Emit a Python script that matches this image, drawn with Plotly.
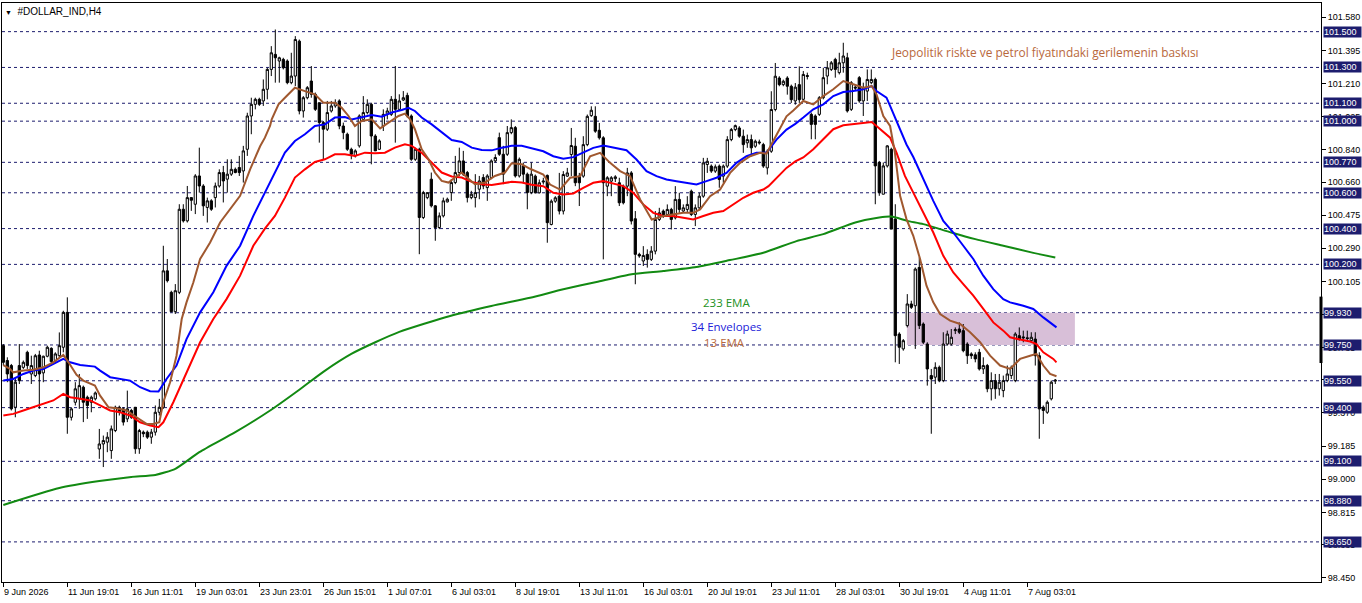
import plotly.graph_objects as go

# ---- H4 candles (bar index 0 = 9 Jun 2026) ----
bar_open = [
    99.746, 99.663, 99.635, 99.402, 99.635, 99.625, 99.709, 99.588, 99.579, 99.694,
    99.594, 99.687, 99.731, 99.663, 99.690, 99.737, 99.932, 99.346, 99.430, 99.449,
    99.514, 99.458, 99.430, 99.449, 99.169, 99.197, 99.207, 99.160, 99.272, 99.402,
    99.393, 99.337, 99.384, 99.402, 99.170, 99.263, 99.263, 99.235, 99.263, 99.374,
    99.402, 100.164, 100.044, 99.936, 100.044, 100.508, 100.443, 100.573, 100.536, 100.694,
    100.638, 100.518, 100.555, 100.573, 100.638, 100.713, 100.676, 100.704, 100.731, 100.741,
    100.722, 100.843, 101.029, 101.094, 101.122, 101.113, 101.178, 101.289, 101.373, 101.336,
    101.345, 101.336, 101.215, 101.252, 101.447, 101.057, 101.131, 101.224, 101.150, 101.103,
    100.992, 100.955, 101.057, 101.085, 101.113, 100.973, 100.927, 100.843, 100.806, 100.862,
    101.010, 101.048, 101.094, 100.917, 100.843, 100.973, 101.038, 101.038, 101.122, 101.066,
    101.118, 101.144, 101.029, 100.787, 100.843, 100.462, 100.573, 100.676, 100.527, 100.406,
    100.471, 100.549, 100.601, 100.657, 100.713, 100.778, 100.713, 100.573, 100.573, 100.620,
    100.685, 100.629, 100.685, 100.778, 100.908, 100.815, 100.815, 100.936, 100.964, 100.694,
    100.750, 100.704, 100.601, 100.693, 100.600, 100.660, 100.697, 100.423, 100.553, 100.581,
    100.498, 100.693, 100.814, 100.860, 100.693, 100.693, 100.869, 101.031, 101.027, 100.949,
    100.907, 100.637, 100.665, 100.679, 100.656, 100.637, 100.637, 100.711, 100.455, 100.256,
    100.219, 100.256, 100.228, 100.274, 100.451, 100.498, 100.479, 100.507, 100.460, 100.563,
    100.498, 100.507, 100.609, 100.479, 100.516, 100.581, 100.758, 100.749, 100.721, 100.749,
    100.693, 100.749, 100.897, 100.953, 100.962, 100.916, 100.879, 100.897, 100.860, 100.884,
    100.869, 100.739, 100.832, 101.065, 101.241, 101.204, 101.241, 101.195, 101.113, 101.204,
    101.122, 101.255, 101.038, 101.029, 101.038, 101.131, 101.252, 101.289, 101.345, 101.271,
    101.326, 101.354, 101.066, 101.190, 101.243, 101.113, 101.168, 101.215, 101.233, 100.769,
    100.592, 100.750, 100.843, 100.453, 99.811, 99.728, 99.858, 99.979, 99.969, 100.183,
    99.867, 99.755, 99.579, 99.570, 99.625, 99.551, 99.755, 99.755, 99.830, 99.839,
    99.830, 99.755, 99.700, 99.695, 99.709, 99.616, 99.635, 99.505, 99.551, 99.505,
    99.495, 99.551, 99.579, 99.551, 99.802, 99.795, 99.790, 99.774, 99.783, 99.690,
    99.402, 99.374, 99.449, 99.548,
]
bar_high = [
    99.755, 99.681, 99.644, 99.570, 99.755, 99.663, 99.718, 99.690, 99.700, 99.718,
    99.690, 99.746, 99.737, 99.709, 99.820, 99.941, 100.016, 99.402, 99.542, 99.588,
    99.523, 99.467, 99.467, 99.490, 99.281, 99.244, 99.263, 99.300, 99.411, 99.411,
    99.402, 99.495, 99.393, 99.402, 99.281, 99.272, 99.272, 99.281, 99.412, 99.449,
    100.304, 100.230, 100.053, 100.090, 100.536, 100.536, 100.638, 100.573, 100.704, 100.852,
    100.648, 100.573, 100.564, 100.657, 100.731, 100.750, 100.787, 100.787, 100.741, 100.806,
    100.862, 101.047, 101.131, 101.131, 101.131, 101.233, 101.298, 101.419, 101.512, 101.360,
    101.354, 101.345, 101.382, 101.475, 101.456, 101.140, 101.196, 101.308, 101.160, 101.103,
    101.001, 101.113, 101.113, 101.122, 101.122, 100.992, 100.936, 100.852, 100.843, 101.038,
    101.140, 101.122, 101.103, 100.927, 100.899, 101.066, 101.075, 101.140, 101.308, 101.150,
    101.168, 101.159, 101.038, 100.852, 100.852, 100.611, 100.601, 100.713, 100.531, 100.490,
    100.573, 100.573, 100.676, 100.806, 100.852, 100.834, 100.722, 100.611, 100.704, 100.694,
    100.704, 100.704, 100.787, 100.815, 100.936, 100.862, 100.973, 101.010, 100.973, 100.797,
    100.769, 100.713, 100.769, 100.702, 100.674, 100.684, 100.702, 100.563, 100.581, 100.711,
    100.721, 100.739, 100.962, 100.907, 100.711, 100.916, 101.037, 101.083, 101.083, 100.990,
    100.916, 100.693, 100.693, 100.698, 100.684, 100.646, 100.739, 100.721, 100.498, 100.265,
    100.302, 100.284, 100.302, 100.498, 100.516, 100.507, 100.535, 100.516, 100.637, 100.600,
    100.535, 100.581, 100.618, 100.535, 100.600, 100.795, 100.795, 100.758, 100.758, 100.758,
    100.758, 100.916, 100.962, 100.981, 100.972, 100.953, 100.925, 100.925, 100.897, 100.897,
    100.879, 100.842, 101.167, 101.325, 101.251, 101.232, 101.251, 101.204, 101.213, 101.306,
    101.280, 101.271, 101.048, 101.038, 101.140, 101.298, 101.336, 101.336, 101.354, 101.382,
    101.438, 101.382, 101.224, 101.200, 101.252, 101.215, 101.289, 101.289, 101.243, 100.778,
    100.769, 100.866, 100.852, 100.536, 99.821, 99.783, 100.034, 99.997, 100.183, 100.239,
    99.876, 99.765, 99.616, 99.653, 99.635, 99.821, 99.830, 99.839, 99.848, 99.876,
    99.867, 99.765, 99.709, 99.709, 99.728, 99.681, 99.644, 99.597, 99.588, 99.588,
    99.579, 99.635, 99.635, 99.821, 99.848, 99.830, 99.830, 99.821, 99.821, 99.709,
    99.412, 99.440, 99.551, 99.560,
]
bar_low = [
    99.635, 99.542, 99.384, 99.346, 99.532, 99.616, 99.616, 99.532, 99.570, 99.393,
    99.542, 99.681, 99.635, 99.653, 99.681, 99.709, 99.254, 99.328, 99.412, 99.393,
    99.319, 99.337, 99.374, 99.440, 99.114, 99.068, 99.151, 99.114, 99.263, 99.356,
    99.300, 99.319, 99.337, 99.142, 99.142, 99.235, 99.225, 99.198, 99.244, 99.356,
    99.393, 100.099, 99.932, 99.923, 100.034, 100.434, 100.434, 100.499, 100.481, 100.601,
    100.471, 100.434, 100.499, 100.518, 100.629, 100.546, 100.601, 100.694, 100.709, 100.694,
    100.657, 100.806, 100.927, 101.066, 101.085, 101.085, 101.122, 101.252, 101.215, 101.215,
    101.289, 101.206, 101.206, 101.196, 101.038, 101.020, 101.122, 101.131, 101.057, 100.880,
    100.787, 100.945, 101.048, 101.075, 100.955, 100.899, 100.834, 100.787, 100.797, 100.852,
    101.010, 101.038, 100.759, 100.834, 100.839, 100.945, 101.010, 101.029, 100.880, 101.057,
    101.113, 101.020, 100.778, 100.778, 100.257, 100.453, 100.564, 100.518, 100.332, 100.397,
    100.462, 100.546, 100.555, 100.648, 100.694, 100.694, 100.546, 100.564, 100.518, 100.564,
    100.620, 100.555, 100.676, 100.769, 100.806, 100.648, 100.806, 100.927, 100.685, 100.685,
    100.657, 100.508, 100.592, 100.596, 100.596, 100.646, 100.321, 100.418, 100.544, 100.479,
    100.479, 100.689, 100.693, 100.637, 100.526, 100.684, 100.860, 101.024, 100.935, 100.897,
    100.228, 100.581, 100.581, 100.660, 100.526, 100.535, 100.581, 100.423, 100.089, 100.237,
    100.191, 100.182, 100.219, 100.256, 100.442, 100.460, 100.470, 100.395, 100.451, 100.488,
    100.488, 100.488, 100.470, 100.414, 100.507, 100.572, 100.711, 100.711, 100.711, 100.628,
    100.656, 100.739, 100.888, 100.944, 100.907, 100.823, 100.851, 100.804, 100.851, 100.869,
    100.739, 100.702, 100.823, 101.055, 101.195, 101.195, 101.148, 101.102, 101.092, 101.102,
    101.113, 101.233, 100.899, 100.899, 101.029, 101.122, 101.206, 101.280, 101.243, 101.261,
    101.271, 101.048, 101.057, 101.170, 101.103, 101.029, 101.113, 101.206, 100.536, 100.583,
    100.592, 100.741, 100.397, 99.653, 99.644, 99.718, 99.848, 99.951, 99.728, 99.839,
    99.755, 99.523, 99.254, 99.532, 99.542, 99.542, 99.746, 99.746, 99.811, 99.811,
    99.709, 99.644, 99.672, 99.653, 99.607, 99.588, 99.486, 99.440, 99.449, 99.467,
    99.458, 99.542, 99.560, 99.542, 99.774, 99.765, 99.774, 99.765, 99.635, 99.226,
    99.309, 99.365, 99.440, 99.532,
]
bar_close = [
    99.653, 99.588, 99.393, 99.542, 99.551, 99.653, 99.635, 99.635, 99.690, 99.588,
    99.687, 99.737, 99.657, 99.700, 99.746, 99.932, 99.346, 99.393, 99.505, 99.523,
    99.430, 99.412, 99.458, 99.482, 99.197, 99.216, 99.235, 99.281, 99.402, 99.374,
    99.319, 99.393, 99.346, 99.170, 99.272, 99.254, 99.235, 99.263, 99.374, 99.402,
    100.164, 100.109, 99.936, 100.053, 100.508, 100.443, 100.573, 100.558, 100.694, 100.638,
    100.527, 100.555, 100.508, 100.638, 100.713, 100.666, 100.704, 100.731, 100.713, 100.713,
    100.834, 101.029, 101.094, 101.122, 101.094, 101.178, 101.289, 101.382, 101.354, 101.354,
    101.298, 101.215, 101.252, 101.456, 101.057, 101.131, 101.187, 101.150, 101.066, 100.992,
    100.955, 101.048, 101.085, 101.103, 100.973, 100.936, 100.843, 100.815, 100.834, 101.029,
    101.048, 101.094, 100.917, 100.834, 100.890, 101.038, 101.057, 101.122, 101.066, 101.113,
    101.131, 101.029, 100.787, 100.843, 100.462, 100.601, 100.601, 100.527, 100.406, 100.471,
    100.555, 100.564, 100.657, 100.713, 100.778, 100.704, 100.573, 100.592, 100.601, 100.666,
    100.638, 100.694, 100.778, 100.797, 100.815, 100.704, 100.936, 100.964, 100.694, 100.787,
    100.704, 100.601, 100.704, 100.600, 100.656, 100.665, 100.433, 100.553, 100.572, 100.498,
    100.702, 100.711, 100.864, 100.656, 100.656, 100.869, 101.027, 101.061, 100.944, 100.907,
    100.656, 100.684, 100.684, 100.689, 100.544, 100.544, 100.711, 100.442, 100.256, 100.247,
    100.250, 100.228, 100.274, 100.451, 100.488, 100.470, 100.507, 100.451, 100.563, 100.507,
    100.516, 100.535, 100.479, 100.516, 100.581, 100.767, 100.776, 100.721, 100.745, 100.674,
    100.749, 100.897, 100.953, 100.975, 100.916, 100.869, 100.897, 100.851, 100.888, 100.879,
    100.749, 100.832, 101.065, 101.251, 101.204, 101.223, 101.195, 101.120, 101.190, 101.120,
    101.261, 101.250, 100.982, 100.982, 101.131, 101.243, 101.298, 101.326, 101.289, 101.326,
    101.364, 101.057, 101.215, 101.185, 101.113, 101.187, 101.233, 101.233, 100.750, 100.601,
    100.750, 100.862, 100.397, 99.802, 99.737, 99.774, 99.979, 99.960, 100.174, 99.858,
    99.765, 99.616, 99.560, 99.625, 99.551, 99.755, 99.811, 99.793, 99.835, 99.821,
    99.718, 99.690, 99.690, 99.672, 99.616, 99.635, 99.505, 99.551, 99.505, 99.542,
    99.551, 99.588, 99.625, 99.811, 99.783, 99.790, 99.786, 99.793, 99.690, 99.393,
    99.384, 99.430, 99.542, 99.553,
]
bar_index = list(range(len(bar_close)))

# ---- indicator lines, sampled at bar positions ----
ema13_x = [0.0, 1.7, 2.5, 5.0, 7.5, 10.0, 12.5, 15.0, 16.3, 18.3, 20.0, 22.9, 24.2, 26.3, 28.3,
           30.8, 33.3, 35.8, 37.5, 39.0, 40.0, 41.7, 43.3, 44.6, 45.8, 47.5, 49.2, 51.7, 54.2,
           56.7, 59.2, 61.7, 64.2, 65.4, 66.7, 67.1, 68.8, 70.4, 72.9, 75.4, 77.9, 80.0, 82.9,
           84.6, 86.3, 87.9, 89.6, 92.1, 94.2, 96.3, 98.8, 100.4, 101.7, 102.9, 104.6, 106.3,
           107.9, 109.6, 111.3, 112.9, 114.6, 116.3, 117.9, 120.4, 122.9, 125.4, 127.1, 129.6,
           131.7, 135.0, 136.7, 139.2, 141.7, 144.2, 146.7, 149.2, 151.7, 154.2, 156.7, 159.2,
           162.1, 165.0, 167.5, 170.0, 172.5, 174.2, 176.7, 179.2, 181.7, 184.2, 186.7, 189.2,
           190.8, 192.9, 195.8, 197.5, 200.0, 202.5, 205.0, 207.5, 210.0, 212.5, 215.0, 217.1,
           218.3, 220.0, 221.7, 222.9, 224.2, 225.8, 227.5, 229.2, 230.8, 232.5, 234.2, 236.7,
           239.2, 241.7, 244.2, 246.7, 249.2, 251.7, 254.2, 256.7, 258.3, 260.0, 261.7, 263.3]
ema13_y = [99.638, 99.616, 99.597, 99.607, 99.612, 99.625, 99.653, 99.694, 99.653, 99.583,
           99.551, 99.523, 99.467, 99.402, 99.397, 99.384, 99.346, 99.309, 99.309, 99.318,
           99.430, 99.542, 99.690, 99.895, 99.988, 100.099, 100.230, 100.322, 100.434, 100.508,
           100.583, 100.731, 100.860, 100.908, 100.975, 101.010, 101.094, 101.131, 101.187,
           101.168, 101.150, 101.103, 101.103, 101.075, 101.029, 100.973, 101.001, 101.010,
           100.960, 100.992, 101.029, 101.042, 101.010, 100.955, 100.843, 100.787, 100.713,
           100.666, 100.657, 100.685, 100.713, 100.679, 100.648, 100.657, 100.694, 100.713,
           100.765, 100.759, 100.734, 100.702, 100.646, 100.618, 100.684, 100.693, 100.804,
           100.823, 100.767, 100.721, 100.693, 100.563, 100.451, 100.470, 100.479, 100.488,
           100.488, 100.507, 100.581, 100.618, 100.711, 100.767, 100.804, 100.823, 100.819,
           100.907, 101.027, 101.060, 101.113, 101.094, 101.140, 101.178, 101.224, 101.206,
           101.187, 101.196, 101.150, 101.029, 100.973, 100.824, 100.583, 100.453, 100.360,
           100.230, 100.081, 99.988, 99.923, 99.886, 99.867, 99.821, 99.765, 99.690, 99.635,
           99.616, 99.672, 99.690, 99.700, 99.635, 99.588, 99.575]

env_upper_x = [0.0, 2.5, 5.0, 7.5, 10.0, 12.5, 15.0, 16.7, 19.2, 22.9, 24.2, 26.7, 29.2, 31.7,
               34.2, 36.7, 38.8, 40.8, 43.3, 45.8, 49.2, 52.5, 55.8, 59.2, 62.5, 65.0, 67.9,
               70.4, 72.9, 75.4, 77.9, 80.4, 82.9, 85.4, 87.1, 89.6, 92.1, 94.6, 97.1, 99.6,
               101.3, 102.9, 104.6, 107.1, 109.6, 112.1, 114.6, 117.1, 119.6, 122.1, 124.6,
               127.1, 129.6, 132.1, 135.0, 137.5, 140.0, 142.5, 145.0, 147.5, 150.0, 152.5,
               155.8, 158.3, 160.8, 163.3, 165.8, 168.3, 170.8, 173.3, 175.8, 178.3, 180.8,
               183.3, 185.8, 188.3, 190.8, 193.3, 195.8, 198.0, 200.0, 202.5, 205.0, 207.5,
               210.0, 212.5, 215.0, 217.1, 218.3, 220.8, 221.7, 222.9, 224.2, 225.8, 227.5,
               230.0, 232.5, 235.0, 237.5, 240.0, 242.5, 245.0, 247.5, 250.0, 251.7, 255.0,
               257.5, 260.0, 262.5, 263.3]
env_upper_y = [99.551, 99.560, 99.588, 99.607, 99.616, 99.644, 99.672, 99.653, 99.638, 99.629,
               99.607, 99.570, 99.560, 99.551, 99.514, 99.492, 99.490, 99.560, 99.635, 99.783,
               99.932, 100.044, 100.192, 100.304, 100.471, 100.583, 100.713, 100.824, 100.889,
               100.927, 100.973, 100.982, 101.020, 101.023, 101.010, 101.020, 101.034, 101.025,
               101.048, 101.062, 101.075, 101.057, 101.020, 100.982, 100.936, 100.895, 100.884,
               100.852, 100.839, 100.837, 100.852, 100.862, 100.862, 100.849, 100.832, 100.804,
               100.790, 100.799, 100.823, 100.851, 100.864, 100.851, 100.838, 100.786, 100.721,
               100.693, 100.674, 100.665, 100.656, 100.646, 100.665, 100.684, 100.711, 100.767,
               100.804, 100.823, 100.823, 100.897, 100.953, 100.985, 101.020, 101.066, 101.094,
               101.140, 101.163, 101.168, 101.178, 101.196, 101.168, 101.131, 101.085, 101.020,
               100.950, 100.870, 100.800, 100.676, 100.555, 100.443, 100.378, 100.304, 100.230,
               100.137, 100.062, 100.006, 99.988, 99.969, 99.951, 99.904, 99.858, 99.848]

env_lower_x = [0.0, 2.5, 5.0, 7.5, 10.0, 12.5, 15.0, 16.7, 19.2, 21.7, 24.2, 26.7, 29.2, 31.7,
               34.2, 36.7, 38.8, 40.0, 42.5, 45.8, 49.2, 52.5, 55.8, 59.2, 62.5, 65.4, 67.9,
               70.4, 72.9, 75.4, 77.9, 80.4, 82.9, 85.4, 87.9, 90.4, 92.9, 95.4, 97.9, 100.4,
               102.1, 104.6, 107.1, 109.6, 112.1, 114.6, 117.1, 119.6, 122.1, 124.6, 127.1,
               129.6, 132.1, 135.0, 137.5, 140.0, 142.5, 145.0, 147.5, 150.0, 152.5, 155.0,
               157.5, 160.0, 162.5, 165.0, 167.5, 170.0, 172.5, 175.0, 177.5, 180.0, 182.5,
               185.0, 187.5, 190.0, 191.3, 193.3, 195.8, 198.0, 200.0, 202.5, 205.0, 207.5,
               210.0, 212.5, 215.0, 217.1, 218.3, 220.8, 221.7, 223.3, 225.4, 227.5, 230.0,
               232.5, 235.0, 237.5, 240.0, 242.5, 245.0, 247.5, 250.0, 251.7, 254.2, 256.7,
               258.3, 260.0, 262.5, 263.3]
env_lower_y = [99.356, 99.365, 99.384, 99.402, 99.421, 99.440, 99.477, 99.458, 99.449, 99.440,
               99.412, 99.384, 99.374, 99.356, 99.318, 99.300, 99.291, 99.318, 99.430, 99.600,
               99.765, 99.895, 100.006, 100.137, 100.304, 100.400, 100.471, 100.573, 100.685,
               100.731, 100.772, 100.787, 100.815, 100.815, 100.806, 100.824, 100.821, 100.824,
               100.852, 100.871, 100.862, 100.824, 100.769, 100.713, 100.691, 100.685, 100.661,
               100.648, 100.644, 100.651, 100.661, 100.657, 100.645, 100.637, 100.600, 100.591,
               100.596, 100.628, 100.656, 100.665, 100.652, 100.637, 100.600, 100.535, 100.488,
               100.470, 100.470, 100.461, 100.451, 100.470, 100.488, 100.498, 100.535, 100.572,
               100.600, 100.618, 100.637, 100.684, 100.739, 100.775, 100.797, 100.843, 100.899,
               100.955, 100.977, 100.982, 100.988, 100.995, 100.973, 100.927, 100.908, 100.824,
               100.694, 100.601, 100.490, 100.378, 100.248, 100.155, 100.090, 100.025, 99.951,
               99.876, 99.830, 99.793, 99.780, 99.769, 99.755, 99.709, 99.672, 99.653]

ema233_x = [0.0, 14.0, 24.0, 32.0, 38.0, 43.0, 49.0, 58.0, 66.7, 74.0, 80.0, 87.0, 93.0,
            99.0, 111.7, 122.0, 131.7, 140.0, 148.3, 156.7, 165.0, 173.3, 181.7, 190.0,
            198.3, 205.0, 213.0, 219.0, 222.0, 226.0, 230.0, 237.0, 243.0, 250.0, 257.0, 263.0]
ema233_y = [98.856, 98.951, 98.990, 99.013, 99.024, 99.058, 99.151, 99.263, 99.384, 99.500,
            99.600, 99.700, 99.765, 99.823, 99.912, 99.968, 100.014, 100.061, 100.102,
            100.144, 100.163, 100.185, 100.224, 100.265, 100.330, 100.369, 100.434, 100.462,
            100.467, 100.443, 100.425, 100.378, 100.341, 100.304, 100.267, 100.239]

# ---- axes ----
date_tick_bars = [0, 16, 32, 48, 64, 80, 96, 112, 128, 144, 160, 176, 192, 208, 224, 240, 256]
date_tick_text = ["9 Jun 2026", "11 Jun 19:01", "16 Jun 11:01", "19 Jun 03:01", "23 Jun 23:01",
                  "26 Jun 15:01", "1 Jul 07:01", "6 Jul 03:01", "8 Jul 19:01", "13 Jul 11:01",
                  "16 Jul 03:01", "20 Jul 19:01", "23 Jul 11:01", "28 Jul 03:01", "30 Jul 19:01",
                  "4 Aug 11:01", "7 Aug 03:01"]
price_ticks = [101.580, 101.395, 101.210, 101.025, 100.840, 100.660, 100.475, 100.290, 100.105,
               99.920, 99.735, 99.555, 99.370, 99.185, 99.000, 98.815, 98.635, 98.450]
# grid ticks whose labels sit fully under a level tag are left unlabeled
covered_ticks = [99.920, 99.555]
level_lines = [101.500, 101.300, 101.100, 101.000, 100.770, 100.600, 100.400, 100.200,
               99.930, 99.750, 99.550, 99.400, 99.100, 98.880, 98.650]
zone_bars = (225.9, 267.9)
zone_prices = (99.750, 99.930)
price_marker = (99.649, 100.020)

x_range = [-0.33, 329.43]
y_range = [98.426, 101.660]

AXIS_FONT = dict(family="Liberation Sans, Arial, sans-serif", size=9, color="#000000")
NAVY = "#1d1d6e"

fig = go.Figure()

fig.add_trace(go.Scatter(x=ema233_x, y=ema233_y, mode="lines", line_shape="spline",
                         line=dict(color="#128a12", width=2, smoothing=0.6), hoverinfo="skip"))
fig.add_trace(go.Scatter(x=env_lower_x, y=env_lower_y, mode="lines",
                         line=dict(color="#ff0000", width=2), hoverinfo="skip"))
fig.add_trace(go.Scatter(x=env_upper_x, y=env_upper_y, mode="lines",
                         line=dict(color="#0000ff", width=2), hoverinfo="skip"))
fig.add_trace(go.Scatter(x=ema13_x, y=ema13_y, mode="lines",
                         line=dict(color="#a0582f", width=2), hoverinfo="skip"))

fig.add_trace(go.Candlestick(
    x=bar_index, open=bar_open, high=bar_high, low=bar_low, close=bar_close,
    increasing=dict(line=dict(color="#000000", width=1), fillcolor="#ffffff"),
    decreasing=dict(line=dict(color="#000000", width=1), fillcolor="#000000"),
    whiskerwidth=0, hoverinfo="skip", showlegend=False,
))

shapes = [dict(type="rect", xref="x", yref="y", x0=zone_bars[0], x1=zone_bars[1],
               y0=zone_prices[0], y1=zone_prices[1], fillcolor="#d8bfd8",
               line=dict(width=0), layer="below")]
for lvl in level_lines:
    shapes.append(dict(type="line", xref="paper", yref="y", x0=0, x1=1, y0=lvl, y1=lvl,
                       line=dict(color=NAVY, width=1, dash="3px,3px"), layer="below"))
shapes.append(dict(type="line", xref="paper", yref="y", x0=1, x1=1,
                   y0=price_marker[0], y1=price_marker[1],
                   line=dict(color="#000000", width=3), layer="above"))

annotations = []
for lvl in level_lines:
    annotations.append(dict(
        xref="paper", yref="y", x=1, y=lvl, xanchor="left", yanchor="middle",
        xshift=2, text=f"{lvl:.3f}", showarrow=False, align="left", width=37,
        bgcolor=NAVY, borderpad=0,
        font=dict(family="Liberation Sans, Arial, sans-serif", size=9, color="#ffffff")))
for b, t in zip(date_tick_bars, date_tick_text):
    annotations.append(dict(
        xref="x", yref="paper", x=b, y=0, xanchor="left", yanchor="top",
        xshift=-1, yshift=-3, text=t, showarrow=False, font=AXIS_FONT))
annotations.append(dict(
    xref="paper", yref="paper", x=0, y=1, xanchor="left", yanchor="top",
    xshift=1, yshift=-1, showarrow=False,
    text="<span style='font-size:7px'>▼</span>  #DOLLAR_IND,H4",
    font=dict(family="Liberation Sans, Arial, sans-serif", size=10, color="#000000")))
annotations.append(dict(
    xref="x", yref="y", x=221.4, y=101.387, xanchor="left", yanchor="middle",
    text="Jeopolitik riskte ve petrol fiyatındaki gerilemenin baskısı", showarrow=False,
    font=dict(family="Open Sans, sans-serif", size=11.9, color="#b8683c")))
annotations.append(dict(
    xref="x", yref="y", x=180.9, y=99.985, xanchor="center", yanchor="middle",
    text="233 EMA", showarrow=False,
    font=dict(family="Open Sans, sans-serif", size=11.5, color="#239123")))
annotations.append(dict(
    xref="x", yref="y", x=180.9, y=99.853, xanchor="center", yanchor="middle",
    text="34 Envelopes", showarrow=False,
    font=dict(family="Open Sans, sans-serif", size=11.5, color="#2020d8")))
annotations.append(dict(
    xref="x", yref="y", x=180.2, y=99.764, xanchor="center", yanchor="middle",
    text="13 EMA", showarrow=False,
    font=dict(family="Open Sans, sans-serif", size=11.5, color="#b8683c")))

fig.update_layout(
    width=1362, height=603,
    margin=dict(l=2, r=41, t=3, b=21),
    paper_bgcolor="#ffffff", plot_bgcolor="#ffffff",
    showlegend=False, boxgap=0.3, boxgroupgap=0.2,
    shapes=shapes, annotations=annotations,
    hovermode=False,
)
fig.update_xaxes(
    range=x_range, showgrid=False, zeroline=False,
    showline=True, linecolor="#000000", linewidth=1, mirror=True,
    tickmode="array", tickvals=date_tick_bars, ticks="outside", ticklen=4,
    tickcolor="#000000", showticklabels=False,
    rangeslider=dict(visible=False), fixedrange=True,
)
fig.update_yaxes(
    range=y_range, side="right", showgrid=False, zeroline=False,
    showline=True, linecolor="#000000", linewidth=1, mirror=True,
    tickmode="array", tickvals=price_ticks,
    ticktext=["" if p in covered_ticks else f"{p:.3f}" for p in price_ticks],
    ticks="outside", ticklen=4, tickcolor="#000000", tickfont=AXIS_FONT,
    fixedrange=True,
)

fig.write_html("out.html", config={"displayModeBar": False})
